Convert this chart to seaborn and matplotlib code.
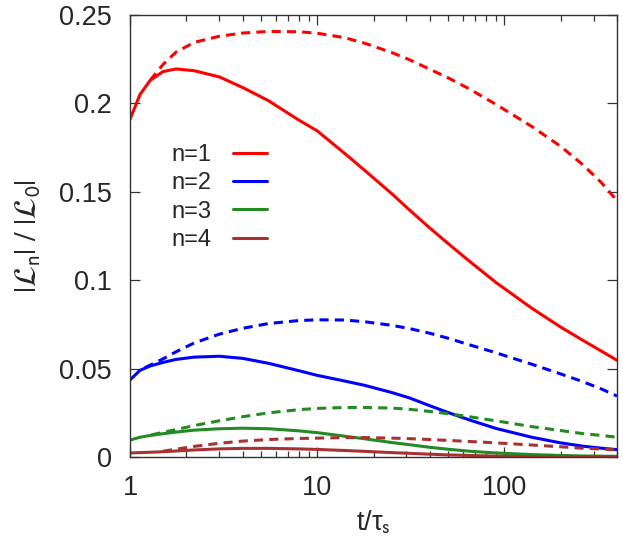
import numpy as np
import pandas as pd
import matplotlib
matplotlib.use("Agg")
import matplotlib.pyplot as plt
import seaborn as sns
from matplotlib.ticker import LogLocator, FixedLocator, NullLocator

# time grid for the solid curves
t_solid = [1, 1.13, 1.28, 1.5, 1.76, 2.2, 3, 4, 5.5, 8, 10, 14, 18, 25, 31,
           40, 50, 65, 90, 140, 200, 260, 330, 400]

n1_solid = [0.191, 0.205, 0.213, 0.218, 0.2195, 0.2185, 0.215, 0.209, 0.2015,
            0.1905, 0.1845, 0.1718, 0.162, 0.149, 0.1399, 0.1295, 0.1208,
            0.1108, 0.0988, 0.0842, 0.0735, 0.0663, 0.0599, 0.0547]
n2_solid = [0.0436, 0.049, 0.0515, 0.0535, 0.0552, 0.0565, 0.0570, 0.0558,
            0.0530, 0.0488, 0.0462, 0.0430, 0.0405, 0.0365, 0.0335, 0.0290,
            0.0252, 0.0210, 0.0162, 0.0112, 0.0080, 0.0062, 0.0050, 0.0042]
n3_solid = [0.0096, 0.0112, 0.0122, 0.0132, 0.0141, 0.0152, 0.0160, 0.0163,
            0.0160, 0.0148, 0.0138, 0.0118, 0.0103, 0.0082, 0.0070, 0.0055,
            0.0044, 0.0033, 0.0023, 0.0014, 0.0009, 0.0006, 0.0005, 0.0004]
n4_solid = [0.0023, 0.0025, 0.0027, 0.0030, 0.0034, 0.0040, 0.0046, 0.0049,
            0.0049, 0.0046, 0.0043, 0.0037, 0.0032, 0.0025, 0.0021, 0.0016,
            0.0012, 0.0009, 0.0005, 0.0002, 0.0001, 0.0001, 0.0001, 0.0001]

# dashed curves (start a little later)
t_n1_dash = [1.28, 1.5, 1.76, 2.2, 3, 4, 5.5, 8, 10, 14, 18, 25, 31, 40, 50,
             65, 90, 140, 200, 260, 330, 400]
n1_dash = [0.213, 0.222, 0.229, 0.2345, 0.238, 0.2398, 0.2407, 0.2405, 0.2397,
           0.2372, 0.2340, 0.2288, 0.2248, 0.2193, 0.2145, 0.2082, 0.1995,
           0.1870, 0.1757, 0.1657, 0.1552, 0.1450]

t_n2_dash = [1.2, 1.5, 1.76, 2.2, 3, 4, 5.5, 8, 10, 14, 18, 25, 31, 40, 50,
             65, 90, 140, 200, 260, 330, 400]
n2_dash = [0.0505, 0.0555, 0.0595, 0.0645, 0.0695, 0.0728, 0.0755, 0.0772,
           0.0776, 0.0775, 0.0765, 0.0745, 0.0727, 0.0700, 0.0672, 0.0635,
           0.0590, 0.0525, 0.0470, 0.0428, 0.0385, 0.0345]

t_n3_dash = [1.3, 1.5, 1.76, 2.2, 3, 4, 5.5, 8, 10, 14, 18, 25, 31, 40, 50,
             65, 90, 140, 200, 260, 330, 400]
n3_dash = [0.0125, 0.0140, 0.0155, 0.0178, 0.0205, 0.0228, 0.0250, 0.0268,
           0.0275, 0.0280, 0.0280, 0.0277, 0.0270, 0.0258, 0.0245, 0.0228,
           0.0205, 0.0172, 0.0150, 0.0133, 0.0122, 0.0112]

t_n4_dash = [1.5, 2.2, 3, 4, 5.5, 8, 10, 14, 18, 25, 31, 40, 50, 65, 90, 140,
             200, 260, 330, 400]
n4_dash = [0.0033, 0.0060, 0.0078, 0.0090, 0.0099, 0.0105, 0.0107, 0.0110,
           0.0110, 0.0107, 0.0104, 0.0099, 0.0094, 0.0088, 0.0080, 0.0068,
           0.0058, 0.0050, 0.0045, 0.0040]

labels = ["n=1", "n=2", "n=3", "n=4"]
colors = ["#ff0000", "#0000ff", "#228b22", "#a83232"]

solid = [n1_solid, n2_solid, n3_solid, n4_solid]
dashed = [(t_n1_dash, n1_dash), (t_n2_dash, n2_dash),
          (t_n3_dash, n3_dash), (t_n4_dash, n4_dash)]

sns.set_style("ticks")
plt.rcParams['font.family'] = ['Liberation Sans', 'DejaVu Sans']
plt.rcParams['mathtext.fontset'] = 'stixsans'

fig = plt.figure(figsize=(6.23, 5.48), dpi=100)
ax = fig.add_axes([0.2087, 0.166, 0.7817, 0.8066])

handles = []
for lab, col, ys, (td, yd) in zip(labels, colors, solid, dashed):
    sns.lineplot(x=td, y=yd, color=col, lw=2.2, ax=ax,
                 linestyle=(0, (3, 2)))
    sns.lineplot(x=t_solid, y=ys, color=col, lw=2.2, ax=ax)
    handles.append(ax.lines[-1])

ax.set_xscale("log")
ax.set_xlim(1, 400)
ax.set_ylim(0, 0.25)

ax.xaxis.set_major_locator(FixedLocator([1, 10, 100]))
ax.xaxis.set_minor_locator(LogLocator(base=10, subs=np.arange(2, 10)))
ax.set_xticklabels(["1", "10", "100"])
ax.set_yticks([0, 0.05, 0.1, 0.15, 0.2, 0.25])
ax.set_yticklabels(["0", "0.05", "0.1", "0.15", "0.2", "0.25"])
ax.yaxis.set_minor_locator(NullLocator())

ax.tick_params(which="both", direction="in", top=True, right=True,
               labelsize=19.5, color="#333333")
ax.tick_params(axis="y", pad=13)
ax.tick_params(axis="x", pad=13)
ax.tick_params(which="major", length=7, width=0.9)
ax.tick_params(which="minor", length=4, width=0.9)
for s in ax.spines.values():
    s.set_color("#333333")
    s.set_linewidth(1.0)

ax.set_xlabel(r"t/τ$_\mathrm{s}$", fontsize=19.5)
ax.xaxis.set_label_coords(0.5, -0.118)
ax.set_ylabel(r"$|\mathcal{L}_\mathrm{n}|\ /\ |\mathcal{L}_0|$", fontsize=22)
ax.yaxis.set_label_coords(-0.178, 0.5)

ax.legend(handles, labels, loc="upper left", bbox_to_anchor=(0.066, 0.73),
          frameon=False, markerfirst=False, fontsize=17, handlelength=1.45,
          handletextpad=0.9, labelspacing=0.27, borderaxespad=0)

fig.savefig("out.png", dpi=100)
